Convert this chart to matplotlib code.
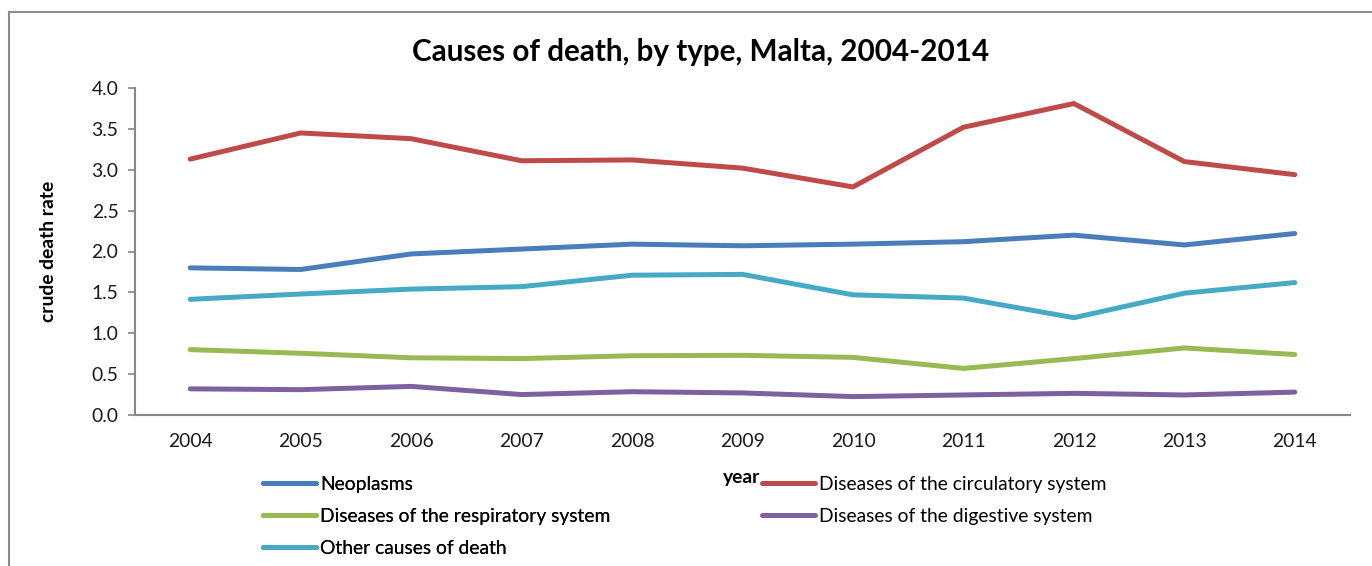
import matplotlib
matplotlib.use("Agg")
import matplotlib.pyplot as plt
from matplotlib.lines import Line2D

plt.rcParams['font.family'] = ['Lato', 'DejaVu Sans']

years = ['2004', '2005', '2006', '2007', '2008', '2009', '2010', '2011', '2012', '2013', '2014']

neoplasms = [1.80, 1.78, 1.97, 2.03, 2.09, 2.07, 2.09, 2.12, 2.20, 2.08, 2.22]
circulatory = [3.13, 3.45, 3.38, 3.11, 3.12, 3.02, 2.79, 3.52, 3.81, 3.10, 2.94]
respiratory = [0.80, 0.755, 0.70, 0.69, 0.725, 0.73, 0.705, 0.57, 0.69, 0.82, 0.74]
digestive = [0.32, 0.31, 0.35, 0.25, 0.285, 0.27, 0.225, 0.245, 0.265, 0.245, 0.28]
other = [1.415, 1.48, 1.54, 1.57, 1.71, 1.72, 1.47, 1.43, 1.19, 1.49, 1.62]

series = [
    ('Neoplasms', neoplasms, '#4A7EBB'),
    ('Diseases of the circulatory system', circulatory, '#BE4B48'),
    ('Diseases of the respiratory system', respiratory, '#98B954'),
    ('Diseases of the digestive system', digestive, '#7D60A0'),
    ('Other causes of death', other, '#46AAC5'),
]

W, H = 1372, 566
FS = 13.9
fig = plt.figure(figsize=(W / 100, H / 100), dpi=100)
ax = fig.add_axes([135 / W, 1 - 415 / H, (1350 - 135) / W, (415 - 88) / H])

x = list(range(len(years)))
handles = {}
for name, vals, color in series:
    line, = ax.plot(x, vals, color=color, lw=3.6, solid_capstyle='round',
                    solid_joinstyle='round', label=name)
    handles[name] = line

ax.set_xlim(-0.5, len(years) - 0.5)
ax.set_ylim(0, 4.0)
ax.set_xticks(x)
ax.set_xticklabels(years)
ax.set_yticks([i * 0.5 for i in range(9)])
ax.set_yticklabels([f'{i * 0.5:.1f}' for i in range(9)])
ax.tick_params(axis='x', length=0, pad=13, labelsize=FS, colors='#1a1a1a')
ax.tick_params(axis='y', length=5, width=1.2, color='#868686', pad=7,
               labelsize=FS, labelcolor='#1a1a1a', direction='out')
for s in ('top', 'right'):
    ax.spines[s].set_visible(False)
for s in ('left', 'bottom'):
    ax.spines[s].set_color('#868686')
    ax.spines[s].set_linewidth(1.5)

ax.set_ylabel('crude death rate', fontsize=FS, fontweight='bold', labelpad=25)
fig.text(701 / W, 1 - 52 / H, 'Causes of death, by type, Malta, 2004-2014',
         ha='center', va='center', fontsize=21.3, fontweight='bold')
fig.text(742 / W, 1 - 477 / H, 'year', ha='center', va='center',
         fontsize=FS, fontweight='bold')

# legend laid out in two columns, filled row by row
legend_kw = dict(frameon=False, fontsize=FS, handlelength=2.75,
                 handletextpad=0.2, labelspacing=0.78,
                 borderaxespad=0, borderpad=0, loc='upper left')
col1 = ['Neoplasms', 'Diseases of the respiratory system', 'Other causes of death']
col2 = ['Diseases of the circulatory system', 'Diseases of the digestive system']
leg1 = fig.legend([handles[n] for n in col1], col1,
                  bbox_to_anchor=(263 / W, 1 - 476 / H), **legend_kw)
fig.add_artist(leg1)
leg2 = fig.legend([handles[n] for n in col2], col2,
                  bbox_to_anchor=(762 / W, 1 - 476 / H), **legend_kw)

# outer chart frame
frame_color = '#8C8C8C'
fig.add_artist(Line2D([9 / W, 9 / W], [0, 1 - 12 / H], transform=fig.transFigure,
                      color=frame_color, lw=1.5))
fig.add_artist(Line2D([9 / W, 1], [1 - 12 / H, 1 - 12 / H], transform=fig.transFigure,
                      color=frame_color, lw=1.5))

fig.savefig('out.png', dpi=100)
